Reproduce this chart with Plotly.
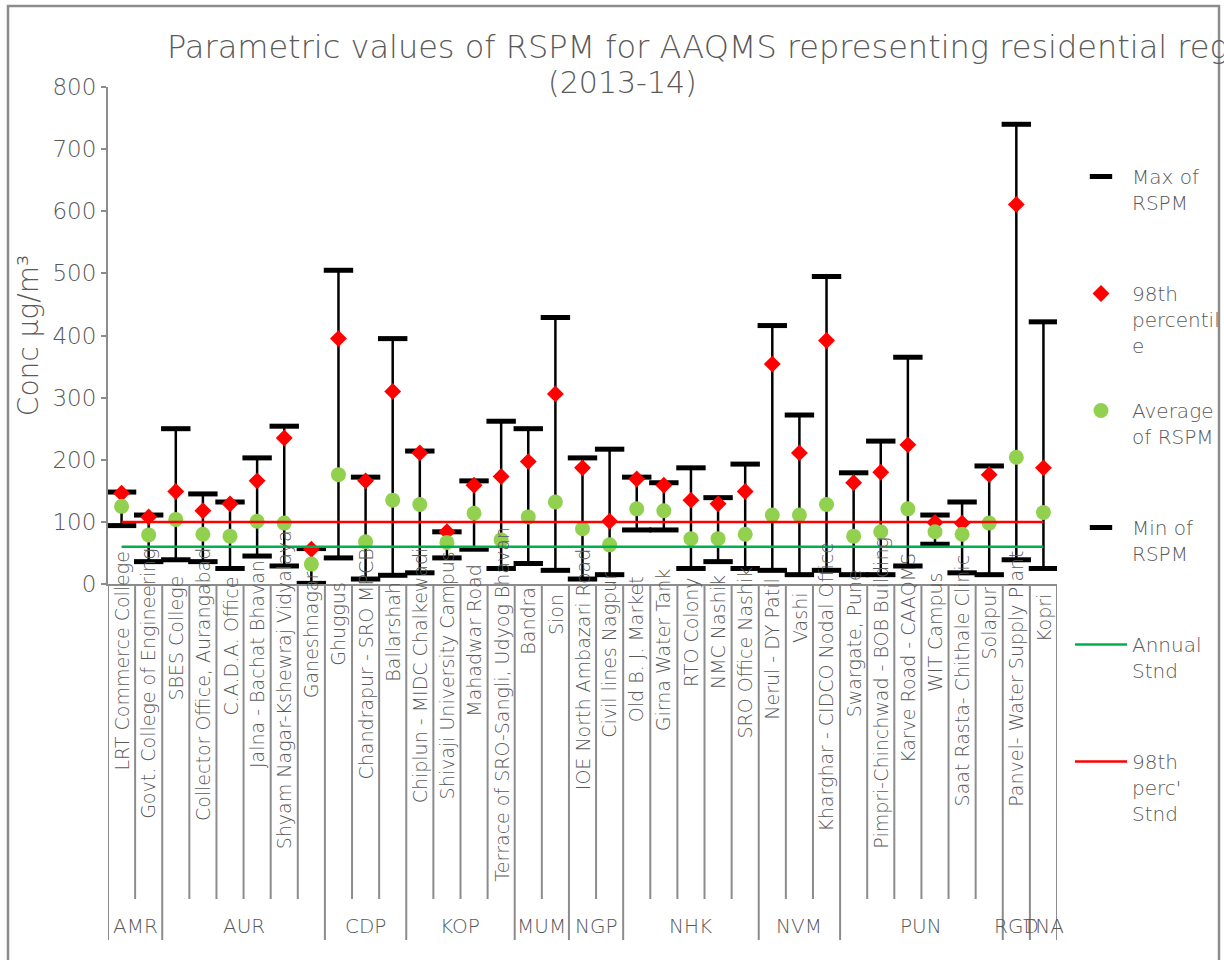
import plotly.graph_objects as go

stations = [
    "LRT Commerce College", "Govt. College of Engineering", "SBES College",
    "Collector Office, Aurangabad", "C.A.D.A. Office", "Jalna - Bachat Bhavan",
    "Shyam Nagar-Kshewraj Vidyalaya", "Ganeshnagar", "Ghuggus",
    "Chandrapur - SRO MPCB", "Ballarshah", "Chiplun - MIDC Chalkewadi",
    "Shivaji University Campus", "Mahadwar Road", "Terrace of SRO-Sangli, Udyog Bhavan",
    "Bandra", "Sion", "IOE North Ambazari Road", "Civil lines Nagpur",
    "Old B. J. Market", "Girna Water Tank", "RTO Colony", "NMC Nashik",
    "SRO Office Nashik", "Nerul - DY Patil", "Vashi", "Kharghar - CIDCO Nodal Office",
    "Swargate, Pune", "Pimpri-Chinchwad - BOB Building", "Karve Road - CAAQMS",
    "WIT Campus", "Saat Rasta- Chithale Clinic", "Solapur",
    "Panvel- Water Supply Plant", "Kopri",
]
groups = ["AMR", "AUR", "CDP", "KOP", "MUM", "NGP", "NHK", "NVM", "PUN", "RGD", "TNA"]
group_sizes = [2, 6, 3, 4, 2, 2, 5, 3, 6, 1, 1]

max_rspm = [148, 111, 250, 145, 132, 203, 254, 57, 505, 172, 395, 214, 84, 166, 262,
            250, 429, 203, 217, 172, 163, 187, 139, 193, 416, 272, 495, 179, 230, 365,
            111, 132, 190, 740, 422]
p98_rspm = [146, 108, 149, 118, 129, 166, 235, 56, 395, 166, 310, 211, 84, 159, 173,
            197, 306, 187, 101, 169, 159, 135, 129, 149, 354, 211, 392, 163, 180, 224,
            99, 98, 176, 611, 187]
avg_rspm = [125, 79, 104, 80, 77, 101, 98, 32, 176, 68, 135, 128, 67, 114, 71,
            108, 132, 89, 63, 121, 118, 73, 73, 80, 111, 111, 128, 77, 84, 121,
            84, 80, 98, 204, 115]
min_rspm = [94, 36, 39, 36, 25, 45, 29, 1, 42, 8, 14, 18, 42, 56, 25,
            33, 22, 8, 15, 87, 87, 25, 36, 25, 22, 15, 22, 15, 15, 29,
            64, 18, 15, 39, 25]
annual_std = [60] * len(stations)
p98_std = [100] * len(stations)

FONT = "DejaVu Sans"
WT = 200
TXT = "#595959"
GRID = "#8c8c8c"

W, H = 1224, 960
L, R, T, B = 108, 1224 - 1057, 87, 960 - 584
PH = H - T - B
PW = W - L - R


def py(pix_y):
    return (H - B - pix_y) / PH


def px(pix_x):
    return (pix_x - L) / PW


def f(size):
    return dict(family=FONT, size=size, color=TXT, weight=WT)


x = list(range(len(stations)))
span = [mx - mn for mx, mn in zip(max_rspm, min_rspm)]

fig = go.Figure()
fig.add_trace(go.Scatter(
    x=x, y=max_rspm, mode="markers", name="Max of<br>RSPM<br> ",
    legendgroup="a",
    marker=dict(symbol="line-ew", size=21, line=dict(width=5, color="black"), color="black"),
    error_y=dict(type="data", symmetric=False, array=[0] * len(x), arrayminus=span,
                 color="black", thickness=2.5, width=0),
))
fig.add_trace(go.Scatter(
    x=x, y=p98_rspm, mode="markers", name="98th<br>percentil<br>e",
    legendgroup="b",
    marker=dict(symbol="diamond", size=13, color="#FF0000"),
))
fig.add_trace(go.Scatter(
    x=x, y=avg_rspm, mode="markers", name="Average<br>of RSPM<br> ",
    legendgroup="c",
    marker=dict(symbol="circle", size=15, color="#92D050"),
))
fig.add_trace(go.Scatter(
    x=x, y=min_rspm, mode="markers", name="Min of<br>RSPM<br> ",
    legendgroup="d",
    marker=dict(symbol="line-ew", size=21, line=dict(width=5, color="black"), color="black"),
))
fig.add_trace(go.Scatter(
    x=x, y=annual_std, mode="lines", name="Annual<br>Stnd<br> ",
    legendgroup="e",
    line=dict(color="#00B050", width=2.5),
))
fig.add_trace(go.Scatter(
    x=x, y=p98_std, mode="lines", name="98th<br>perc'<br>Stnd",
    legendgroup="f",
    line=dict(color="#FF0000", width=2.5),
))

shapes = []
annotations = []
# category separators
boundaries_group = set([0])
acc = 0
for s in group_sizes:
    acc += s
    boundaries_group.add(acc)
for k in range(len(stations) + 1):
    bottom = 940 if k in boundaries_group else 899
    shapes.append(dict(type="line", xref="x", yref="paper", x0=k - 0.5, x1=k - 0.5,
                       y0=py(584), y1=py(bottom), line=dict(color=GRID, width=2)))
# station labels
for i, name in enumerate(stations):
    off = 19 + 2.9 * len(name)
    annotations.append(dict(x=i, y=py(584 + off), xref="x", yref="paper", text=name,
                            textangle=-90, showarrow=False, xanchor="center",
                            yanchor="middle", font=f(19)))
# group labels
acc = 0
for g, s in zip(groups, group_sizes):
    c = acc + s / 2 - 0.5
    annotations.append(dict(x=c, y=py(926), xref="x", yref="paper", text=g,
                            showarrow=False, xanchor="center", yanchor="middle",
                            font=f(20)))
    acc += s
# title
annotations.append(dict(x=px(165), y=py(47), xref="paper", yref="paper",
                        text="Parametric values of RSPM for AAQMS representing residential regions",
                        showarrow=False, xanchor="left", yanchor="middle",
                        font=f(32)))
annotations.append(dict(x=px(622), y=py(82), xref="paper", yref="paper",
                        text="(2013-14)", showarrow=False, xanchor="center", yanchor="middle",
                        font=f(30)))
# outer frame
shapes.append(dict(type="rect", xref="paper", yref="paper", x0=px(8), x1=px(1219),
                   y0=py(1000), y1=py(6), line=dict(color=GRID, width=2.5), layer="below"))

fig.update_layout(
    width=W, height=H, autosize=False,
    margin=dict(l=L, r=R, t=T, b=B, pad=0, autoexpand=False),
    paper_bgcolor="white", plot_bgcolor="white",
    font=dict(family=FONT, color=TXT, weight=WT),
    showlegend=True,
    legend=dict(x=px(1070), y=py(157), xanchor="left", yanchor="top",
                font=f(20), maxheight=900,
                itemwidth=52, tracegroupgap=36, valign="top",
                bgcolor="rgba(0,0,0,0)"),
    xaxis=dict(range=[-0.5, len(stations) - 0.5], showline=True, linecolor=GRID,
               linewidth=2, showgrid=False, zeroline=False, showticklabels=False,
               ticks=""),
    yaxis=dict(range=[0, 800], dtick=100, showline=True, linecolor=GRID, linewidth=2,
               showgrid=False, zeroline=False, ticks="outside", ticklen=5,
               tickcolor=GRID, tickwidth=2,
               tickfont=f(23),
               title=dict(text="Conc µg/m³", font=f(28), standoff=6)),
    shapes=shapes,
    annotations=annotations,
)

fig.write_html("out.html")
